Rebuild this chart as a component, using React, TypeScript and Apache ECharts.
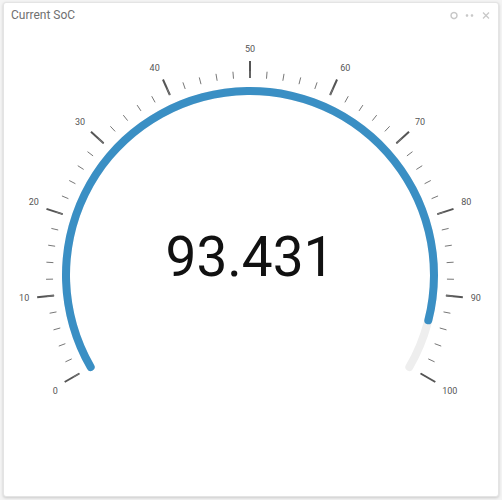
import { useEffect, useRef } from "react";
import * as echarts from "echarts";

const TITLE = "Current SoC";
const SOC_VALUE = [93.431];
const AXIS_RANGE = [0, 100];
const SPLIT_COUNT = 10;
const MINOR_PER_SPLIT = 5;
const LABEL_STEP = 10;

const BLUE = "#3a8fc4";
const CENTER = [250, 275];
const SWEEP = 240;

export default function App() {
  const chartRef = useRef<HTMLDivElement | null>(null);

  useEffect(() => {
    const el = chartRef.current;
    if (!el) {
      return;
    }

    const chart = echarts.init(el, null, { renderer: "svg" });
    const span = AXIS_RANGE[1] - AXIS_RANGE[0];

    chart.setOption({
      animation: false,
      title: {
        text: TITLE,
        left: 11,
        top: 9,
        padding: 0,
        textStyle: {
          fontFamily: "Roboto",
          fontSize: 12,
          fontWeight: "normal",
          color: "#707070",
        },
      },
      graphic: [
        {
          type: "circle",
          shape: { cx: 454, cy: 15.5, r: 3 },
          style: { fill: "none", stroke: "#c8c8c8", lineWidth: 1.5 },
        },
        {
          type: "circle",
          shape: { cx: 467, cy: 15.5, r: 1.3 },
          style: { fill: "#c8c8c8" },
        },
        {
          type: "circle",
          shape: { cx: 472, cy: 15.5, r: 1.3 },
          style: { fill: "#c8c8c8" },
        },
        {
          type: "line",
          shape: { x1: 483, y1: 12.5, x2: 489, y2: 18.5 },
          style: { stroke: "#c8c8c8", lineWidth: 1.3 },
        },
        {
          type: "line",
          shape: { x1: 489, y1: 12.5, x2: 483, y2: 18.5 },
          style: { stroke: "#c8c8c8", lineWidth: 1.3 },
        },
      ],
      // polar angle axis only carries the outer tick labels (placed outward)
      polar: {
        center: CENTER,
        radius: 214,
      },
      angleAxis: {
        type: "value",
        min: AXIS_RANGE[0],
        max: AXIS_RANGE[0] + (span * 360) / SWEEP,
        interval: LABEL_STEP,
        startAngle: 210,
        clockwise: true,
        axisLine: { show: false },
        axisTick: { show: false },
        splitLine: { show: false },
        axisLabel: {
          margin: 8,
          color: "#555",
          fontSize: 9,
          fontFamily: "Roboto",
          formatter: (v: number) => (v <= AXIS_RANGE[1] ? String(v) : ""),
        },
      },
      radiusAxis: {
        show: false,
        min: 0,
        max: 1,
      },
      series: [
        {
          type: "gauge",
          center: CENTER,
          radius: 188,
          startAngle: 210,
          endAngle: 210 - SWEEP,
          min: AXIS_RANGE[0],
          max: AXIS_RANGE[1],
          splitNumber: SPLIT_COUNT,
          progress: {
            show: true,
            width: 8,
            roundCap: true,
            itemStyle: { color: BLUE },
          },
          axisLine: {
            roundCap: true,
            lineStyle: {
              width: 8,
              color: [[1, "#eeeeee"]],
            },
          },
          pointer: { show: false },
          anchor: { show: false },
          splitLine: {
            distance: -34,
            length: 17,
            lineStyle: { color: "#555", width: 2 },
          },
          axisTick: {
            splitNumber: MINOR_PER_SPLIT,
            distance: -24,
            length: 7,
            lineStyle: { color: "#777", width: 1 },
          },
          axisLabel: { show: false },
          title: { show: false },
          detail: {
            valueAnimation: false,
            offsetCenter: [0, -18],
            fontSize: 55,
            fontFamily: "Roboto",
            fontWeight: "normal",
            color: "#111",
            formatter: (v: number) => v.toFixed(3),
          },
          data: [{ value: SOC_VALUE[0] }],
        },
      ],
    });

    return () => {
      chart.dispose();
    };
  }, []);

  return (
    <div
      style={{
        position: "fixed",
        left: 0,
        top: 0,
        width: 502,
        height: 500,
        background: "#f4f4f4",
      }}
    >
      <div
        style={{
          position: "absolute",
          left: 3,
          top: 2,
          width: 494,
          height: 493,
          background: "#fff",
          border: "1px solid #e4e4e4",
          borderRadius: 3,
          boxShadow: "0 1px 3px rgba(0,0,0,0.18)",
        }}
      />
      <div
        ref={chartRef}
        style={{ position: "absolute", left: 0, top: 0, width: 502, height: 500 }}
      />
    </div>
  );
}
